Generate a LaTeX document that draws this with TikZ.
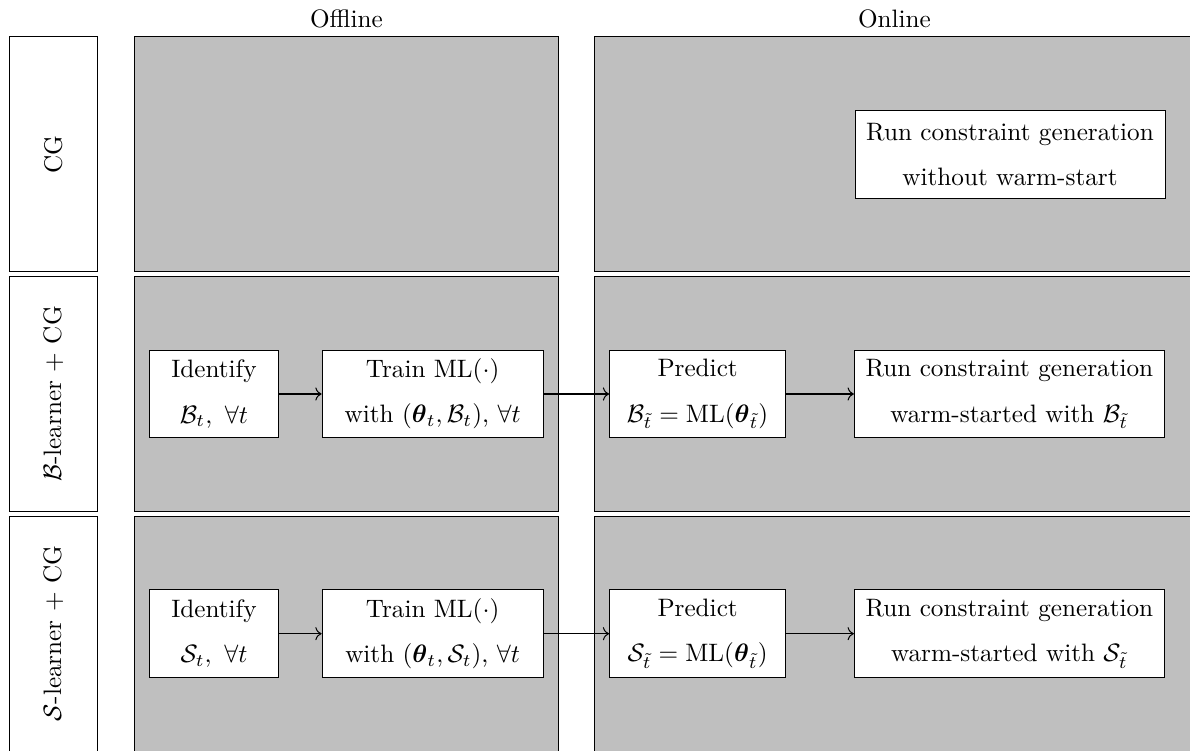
\documentclass[tikz,border=0pt]{standalone}
\usepackage{amsmath, amsfonts}
\usepackage{tikz}
\usetikzlibrary{positioning, arrows.meta}

\begin{document}
\begin{tikzpicture}[x=0.3968pt, y=-0.3968pt,
  every node/.style = {shape=rectangle, draw, align=center},
  phase/.style = {fill=lightgray, inner sep=0pt, minimum height=93.1pt},
  rowlabel/.style = {rotate=90, minimum width=93.1pt, minimum height=35pt},
  step box/.style = {fill=white, minimum height=34.8pt, inner sep=2pt},
  head/.style = {draw=none, anchor=south}]
  \useasboundingbox (0,0) rectangle (1190,750);

  % rows: CG, B-learner + CG, S-learner + CG
  \node[rowlabel] (lab1) at (53.2,154.3) {CG};
  \node[rowlabel] (lab2) at (53.2,394) {$\mathcal{B}$-learner $+$ CG};
  \node[rowlabel] (lab3) at (53.2,633.7) {$\mathcal{S}$-learner $+$ CG};

  \node[phase, minimum width=167.9pt] (off1) at (346.5,154.3) {};
  \node[phase, minimum width=167.9pt] (off2) at (346.5,394) {};
  \node[phase, minimum width=167.9pt] (off3) at (346.5,633.7) {};
  \node[phase, minimum width=237.7pt] (on1) at (894.5,154.3) {};
  \node[phase, minimum width=237.7pt] (on2) at (894.5,394) {};
  \node[phase, minimum width=237.7pt] (on3) at (894.5,633.7) {};

  \node[head] at (off1.north) {Offline};
  \node[head] at (on1.north) {Online};

  \node[step box, minimum width=123pt] (cg) at (1010,154.3)
    {Run constraint generation\\[6pt] without warm-start};

  \node[step box, minimum width=50.8pt] (idB) at (214,394)
    {Identify\\[6pt] $\mathcal{B}_t,\ \forall t$};
  \node[step box, minimum width=87.7pt, right=17.1pt of idB] (trainB)
    {Train $\mathrm{ML}(\cdot)$\\[6pt] with $(\boldsymbol{\theta}_t, \mathcal{B}_t)$, $\forall t$};
  \node[step box, minimum width=69.8pt, right=26pt of trainB] (predB)
    {Predict\\[6pt] $\mathcal{B}_{\tilde{t}} = \mathrm{ML}(\boldsymbol{\theta}_{\tilde{t}})$};
  \node[step box, minimum width=123pt, right=26.9pt of predB] (runB)
    {Run constraint generation\\[6pt] warm-started with $\mathcal{B}_{\tilde{t}}$};

  \node[step box, minimum width=50.8pt] (idS) at (214,633.7)
    {Identify\\[6pt] $\mathcal{S}_t,\ \forall t$};
  \node[step box, minimum width=87.7pt, right=17.1pt of idS] (trainS)
    {Train $\mathrm{ML}(\cdot)$\\[6pt] with $(\boldsymbol{\theta}_t, \mathcal{S}_t)$, $\forall t$};
  \node[step box, minimum width=69.8pt, right=26pt of trainS] (predS)
    {Predict\\[6pt] $\mathcal{S}_{\tilde{t}} = \mathrm{ML}(\boldsymbol{\theta}_{\tilde{t}})$};
  \node[step box, minimum width=123pt, right=26.9pt of predS] (runS)
    {Run constraint generation\\[6pt] warm-started with $\mathcal{S}_{\tilde{t}}$};

  \draw[->] (idB) -- (trainB);
  \draw[->] (trainB) -- (predB);
  \draw[->] (predB) -- (runB);
  \draw[->] (idS) -- (trainS);
  \draw[->] (trainS) -- (predS);
  \draw[->] (predS) -- (runS);
\end{tikzpicture}
\end{document}
